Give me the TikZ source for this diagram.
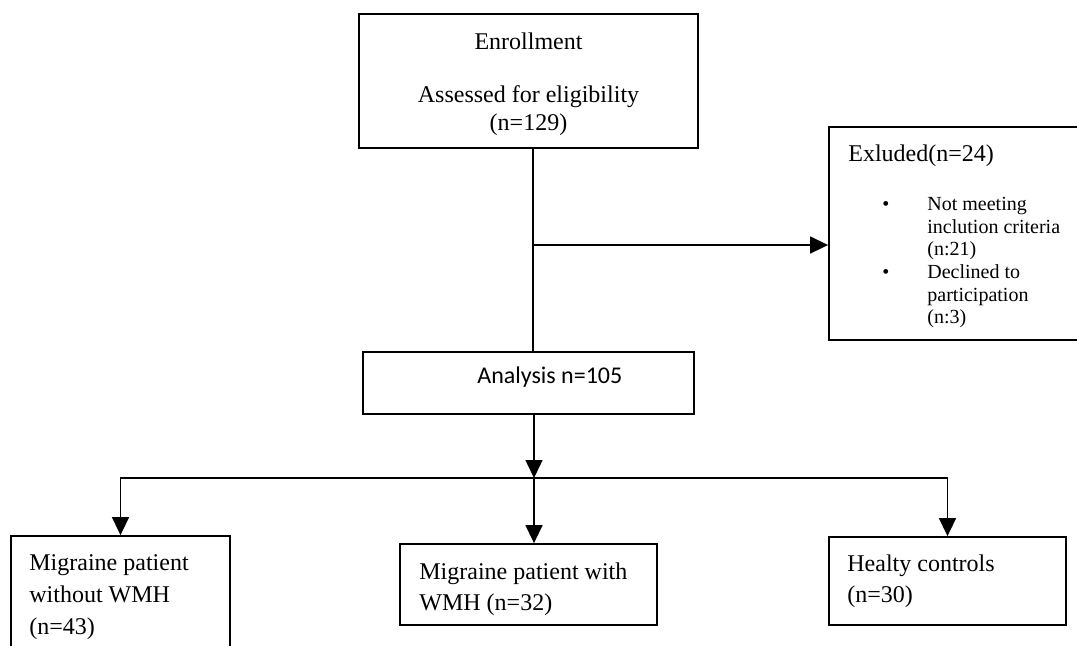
\documentclass[tikz,border=0pt]{standalone}
\usepackage{fontspec}
\setmainfont{Liberation Serif}
\newfontfamily\calibri{Carlito}
\usetikzlibrary{arrows.meta}

\begin{document}
\begin{tikzpicture}[x=0.5pt, y=-0.5pt]
            \tikzstyle{box}=[draw, line width=0.9pt, inner sep=0pt]
            \tikzstyle{boxtext}=[anchor=north west, inner sep=0pt, align=left, font=\fontsize{12}{15.75}\selectfont]
            \tikzstyle{link}=[line width=0.75pt]
            \tikzstyle{flow}=[line width=0.75pt, -{Triangle[length=9pt,width=8.5pt]}]

            \useasboundingbox (0,0) rectangle (1077,645);

            % boxes
            \node[box, minimum width=169.5pt, minimum height=67pt] (enroll) at (528.5,81) {};
            \node[box, minimum width=135.5pt, minimum height=106.5pt] (excluded) at (964.5,233.5) {};
            \node[box, minimum width=165.5pt, minimum height=31pt] (analysis) at (528.5,383) {};
            \node[box, minimum width=109.5pt, minimum height=62pt] (group_1) at (120.5,598) {};
            \node[box, minimum width=128.5pt, minimum height=40.5pt] (group_2) at (528.5,584.5) {};
            \node[box, minimum width=118.5pt, minimum height=44pt] (group_3) at (947.5,581) {};

            % texts
            \node[boxtext, anchor=north, align=center, font=\fontsize{12}{14}\selectfont] (enroll_txt) at (528.5,32) {Enrollment\\[12.5pt]Assessed for eligibility\\(n=129)};
            \node[boxtext] (excluded_txt) at (848,144) {Exluded(n=24)};
            \node[boxtext, font=\fontsize{10}{11.3}\selectfont] (reasons) at (882,197) {\makebox[22.5pt][l]{\textbullet}Not meeting\\\hspace*{22.5pt}inclution criteria\\\hspace*{22.5pt}(n:21)\\\makebox[22.5pt][l]{\textbullet}Declined to\\\hspace*{22.5pt}participation\\\hspace*{22.5pt}(n:3)};
            \node[boxtext, anchor=base west, font=\calibri\fontsize{12}{14}\selectfont] (analysis_txt) at (477,383) {Analysis n=105};
            \node[boxtext, font=\fontsize{12}{16}\selectfont] (group_1_txt) at (29,554) {Migraine patient\\without WMH\\(n=43)};
            \node[boxtext, font=\fontsize{12}{15.5}\selectfont] (group_2_txt) at (419,562) {Migraine patient with\\WMH (n=32)};
            \node[boxtext] (group_3_txt) at (847,554) {Healty controls\\(n=30)};

            % connectors
            \coordinate (split) at (533,245);
            \coordinate (hub) at (534,478);
            \draw[link] (enroll.south -| split) -- (analysis.north -| split);
            \draw[flow] (split) -- (split -| excluded.west);
            \draw[flow] (analysis.south -| hub) -- (hub);
            \draw[flow] (hub) -| (group_1.north);
            \draw[flow] (hub) -- (group_2.north -| hub);
            \draw[flow] (hub) -| (group_3.north);
\end{tikzpicture}
\end{document}
